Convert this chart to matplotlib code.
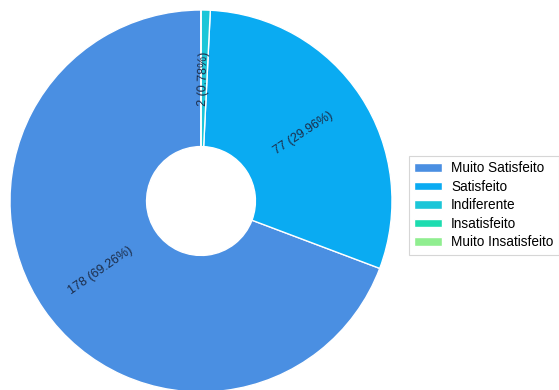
import matplotlib
matplotlib.use("Agg")
import matplotlib.pyplot as plt
import numpy as np

categories = ["Muito Satisfeito", "Satisfeito", "Indiferente", "Insatisfeito", "Muito Insatisfeito"]
values = [178, 77, 2, 0, 0]
colors = ["#4a8fe2", "#0aabf2", "#1cc6d8", "#1ddcb0", "#90ee90"]

plt.rcParams['font.family'] = ['Liberation Sans', 'DejaVu Sans']

fig = plt.figure(figsize=(5.59, 3.90), dpi=100)
R = 191
cx, cy = 201, 201
ax = fig.add_axes([(cx - R)/559, (390 - cy - R)/390, 2*R/559, 2*R/390])

inner = 0.285
wedges, _ = ax.pie(values, colors=colors, startangle=90, counterclock=True, radius=1,
                   wedgeprops=dict(width=1 - inner, edgecolor='white', linewidth=1))
ax.set_xlim(-1, 1)
ax.set_ylim(-1, 1)
ax.set_aspect('equal')
ax.axis('off')

total = sum(values)
r = (1 + inner) / 2
for w, v in zip(wedges, values):
    if v == 0:
        continue
    mid = (w.theta1 + w.theta2) / 2
    x = r * np.cos(np.deg2rad(mid))
    y = r * np.sin(np.deg2rad(mid))
    rot = (mid + 180) % 360 - 180
    if rot > 90:
        rot -= 180
    elif rot < -90:
        rot += 180
    ax.text(x, y, f"{v} ({v/total*100:.2f}%)", rotation=rot, ha='center', va='center',
            rotation_mode='anchor', fontsize=9, color='#1c2c48')

leg = fig.legend(wedges, categories, loc='upper left', bbox_to_anchor=(409/559, 1 - 156/390),
                 borderaxespad=0, fontsize=9.8, frameon=True, fancybox=False, shadow=False,
                 handlelength=2.0, handleheight=0.6, handletextpad=0.7, labelspacing=0.33,
                 borderpad=0.4, edgecolor='#cccccc')
leg.get_frame().set_linewidth(0.8)

fig.savefig("out.png", dpi=100)
